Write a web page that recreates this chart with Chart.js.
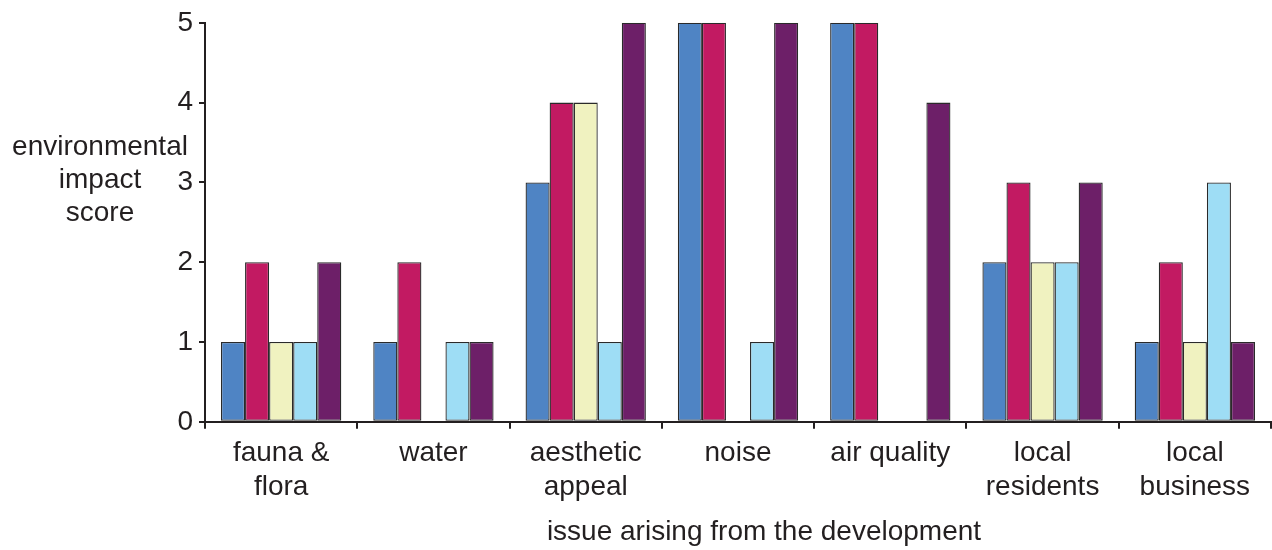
<!DOCTYPE html>
<html>
<head>
<meta charset="utf-8">
<script src="https://cdn.jsdelivr.net/npm/chart.js@4/dist/chart.umd.min.js"></script>
<style>
html,body{margin:0;padding:0;background:#fff;}
#wrap{width:1272px;height:550px;}
</style>
</head>
<body>
<div id="wrap"><canvas id="c" width="1272" height="550"></canvas></div>
<script>
const categories = [["fauna &","flora"],["water"],["aesthetic","appeal"],["noise"],["air quality"],["local","residents"],["local","business"]];
const series1 = [1,1,3,5,5,2,1];
const series2 = [2,2,4,5,5,3,2];
const series3 = [1,0,4,0,0,2,1];
const series4 = [1,1,1,1,0,2,3];
const series5 = [2,1,5,5,4,3,1];
const yTicks = [0,1,2,3,4,5];
const yTitle = ["environmental","impact","score"];
const xTitle = "issue arising from the development";
const colors = ["#4F84C4","#C21A62","#F0F2C0","#9EDDF5","#6D1F68"];

const FONT = "'Liberation Sans', Arial, sans-serif";
const mk = (d,i)=>({data:d,backgroundColor:colors[i],borderColor:"#2a2a2a",borderWidth:1.3,borderSkipped:false,categoryPercentage:0.79,barPercentage:1});

const titlesPlugin = {
  id:'titles',
  afterDraw(chart){
    const ctx = chart.ctx;
    ctx.save();
    ctx.font = "28px " + FONT;
    ctx.fillStyle = "#231f20";
    ctx.textAlign = "center";
    ctx.textBaseline = "middle";
    yTitle.forEach((t,i)=>ctx.fillText(t,100,147+i*33));
    ctx.fillText(xTitle,764,532);
    ctx.restore();
  }
};

new Chart(document.getElementById('c'),{
  type:'bar',
  data:{labels:categories,datasets:[mk(series1,0),mk(series2,1),mk(series3,2),mk(series4,3),mk(series5,4)]},
  options:{
    responsive:false,animation:false,
    layout:{padding:{top:0,right:1,left:0,bottom:38}},
    plugins:{legend:{display:false},tooltip:{enabled:false}},
    scales:{
      x:{
        grid:{display:true,offset:true,drawOnChartArea:false,drawTicks:true,tickLength:7,color:"#231f20",lineWidth:2},
        border:{display:true,color:"#231f20",width:2},
        ticks:{font:{family:FONT,size:28},color:"#231f20",padding:8,maxRotation:0,autoSkip:false}
      },
      y:{
        min:0,max:5,
        afterFit(s){s.width=205;},
        afterBuildTicks(s){s.ticks=yTicks.map(v=>({value:v}));},
        grid:{display:true,drawOnChartArea:false,drawTicks:true,tickLength:6,color:"#231f20",lineWidth:2},
        border:{display:true,color:"#231f20",width:2},
        ticks:{font:{family:FONT,size:28},color:"#231f20",padding:6}
      }
    }
  },
  plugins:[titlesPlugin]
});
</script>
</body>
</html>
